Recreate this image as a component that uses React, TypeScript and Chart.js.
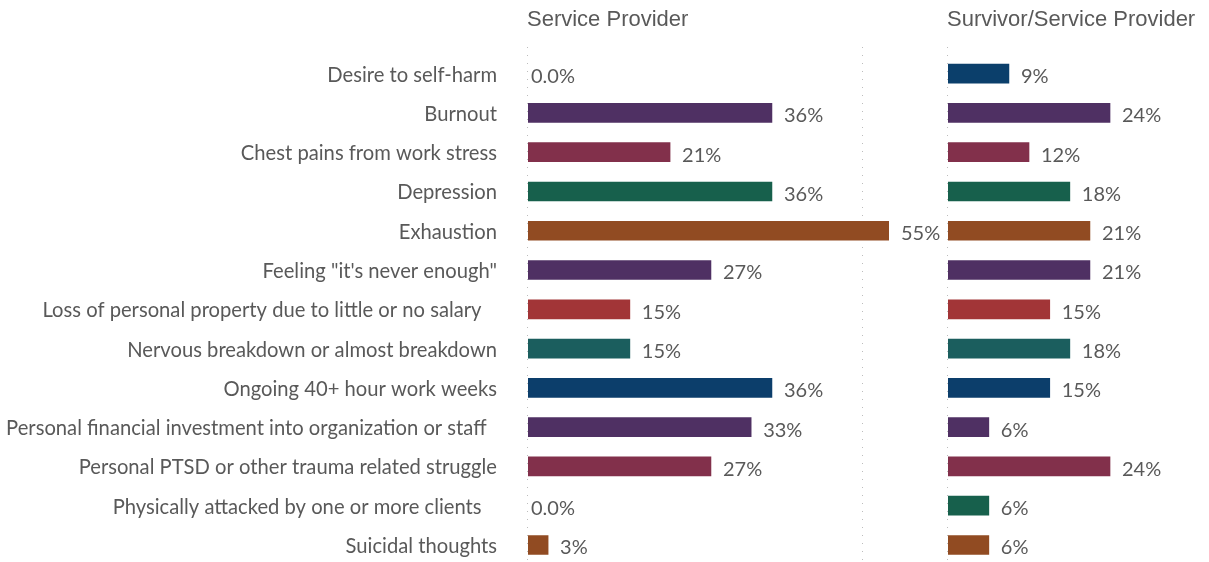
import React, { useEffect, useRef } from "react";
import { Chart, registerables } from "chart.js";

Chart.register(...registerables);

const categories = [
  "Desire to self-harm",
  "Burnout",
  "Chest pains from work stress",
  "Depression",
  "Exhaustion",
  "Feeling \"it's never enough\"",
  "Loss of personal property due to little or no salary   ",
  "Nervous breakdown or almost breakdown",
  "Ongoing 40+ hour work weeks",
  "Personal financial investment into organization or staff  ",
  "Personal PTSD or other trauma related struggle",
  "Physically attacked by one or more clients   ",
  "Suicidal thoughts",
];

const serviceProvider = [0, 36.4, 21.2, 36.4, 54.5, 27.3, 15.2, 15.2, 36.4, 33.3, 27.3, 0, 3.0];
const survivorServiceProvider = [9.1, 24.2, 12.1, 18.2, 21.2, 21.2, 15.2, 18.2, 15.2, 6.1, 24.2, 6.1, 6.1];

const barColors = [
  "#0B3F6B",
  "#4F3063",
  "#82304B",
  "#17604C",
  "#914B22",
  "#4F3063",
  "#A23537",
  "#1B5E5E",
  "#0C3E6B",
  "#4F3063",
  "#82304B",
  "#17604C",
  "#914B22",
];

const panelTitles = ["Service Provider", "Survivor/Service Provider"];
const leftGrid = [0, 50];
const rightGrid = [0];

const TEXT = "#595959";
const LABEL_FONT = "Lato";

function makePlugins(title: string, gridValues: number[], showLabels: boolean) {
  return [
    {
      id: "dotGrid",
      beforeDatasetsDraw(chart: any) {
        const ctx = chart.ctx;
        const xs = chart.scales.x;
        ctx.save();
        ctx.strokeStyle = "#bdbdbd";
        ctx.lineWidth = 1;
        ctx.setLineDash([1, 7]);
        gridValues.forEach((v) => {
          const px = Math.round(xs.getPixelForValue(v)) - 0.5;
          ctx.beginPath();
          ctx.moveTo(px, 47);
          ctx.lineTo(px, chart.chartArea.bottom);
          ctx.stroke();
        });
        ctx.restore();
      },
    },
    {
      id: "labelsAndTitle",
      afterDatasetsDraw(chart: any) {
        const ctx = chart.ctx;
        const area = chart.chartArea;
        const ys = chart.scales.y;
        const meta = chart.getDatasetMeta(0);
        const data = chart.data.datasets[0].data as number[];
        ctx.save();
        ctx.fillStyle = TEXT;
        ctx.textBaseline = "middle";
        if (showLabels) {
          ctx.font = `20.2px ${LABEL_FONT}`;
          ctx.textAlign = "right";
          (chart.data.labels as string[]).forEach((lab, i) => {
            ctx.fillText(lab, area.left - 31, ys.getPixelForValue(i) + 1.5);
          });
        }
        ctx.font = `20px ${LABEL_FONT}`;
        ctx.textAlign = "left";
        meta.data.forEach((el: any, i: number) => {
          const v = data[i];
          if (v === 0) {
            ctx.fillText("0.0%", area.left + 3, el.y + 3);
          } else {
            const end = Math.min(el.x, area.right);
            ctx.fillText(Math.round(v) + "%", end + 12, el.y + 3);
          }
        });
        ctx.font = `22px "Liberation Sans", Arial, sans-serif`;
        ctx.fillText(title, area.left - 1, 20);
        ctx.restore();
      },
    },
  ];
}

function Panel(props: {
  values: number[];
  title: string;
  grid: number[];
  showLabels: boolean;
  xMax: number;
  width: number;
  left: number;
  padding: any;
}) {
  const ref = useRef<HTMLCanvasElement | null>(null);
  useEffect(() => {
    if (!ref.current) return;
    const chart = new Chart(ref.current, {
      type: "bar",
      data: {
        labels: categories,
        datasets: [
          {
            data: props.values,
            backgroundColor: (c: any) =>
              c.raw === 0 ? "rgba(0,0,0,0)" : barColors[c.dataIndex],
            barThickness: 19,
            borderWidth: 0,
            clip: 0,
          } as any,
        ],
      },
      options: {
        indexAxis: "y",
        animation: false,
        responsive: false,
        maintainAspectRatio: false,
        layout: { padding: props.padding },
        plugins: {
          legend: { display: false },
          tooltip: { enabled: false },
          title: { display: false },
        },
        scales: {
          x: { display: false, min: 0, max: props.xMax },
          y: { display: false },
        },
      },
      plugins: makePlugins(props.title, props.grid, props.showLabels),
    });
    return () => chart.destroy();
  }, []);
  return (
    <canvas
      ref={ref}
      width={props.width}
      height={575}
      style={{ position: "absolute", left: props.left, top: 0, width: props.width, height: 575 }}
    />
  );
}

export default function App() {
  return (
    <div
      style={{
        position: "fixed",
        left: 0,
        top: 0,
        width: 1209,
        height: 575,
        background: "#ffffff",
        overflow: "hidden",
      }}
    >
      <Panel
        values={serviceProvider}
        title={panelTitles[0]}
        grid={leftGrid}
        showLabels={true}
        xMax={53.87}
        width={945}
        left={0}
        padding={{ left: 528, top: 54, right: 56, bottom: 10.4 }}
      />
      <Panel
        values={survivorServiceProvider}
        title={panelTitles[1]}
        grid={rightGrid}
        showLabels={false}
        xMax={38}
        width={309}
        left={900}
        padding={{ left: 48, top: 54, right: 6.6, bottom: 10.4 }}
      />
    </div>
  );
}
